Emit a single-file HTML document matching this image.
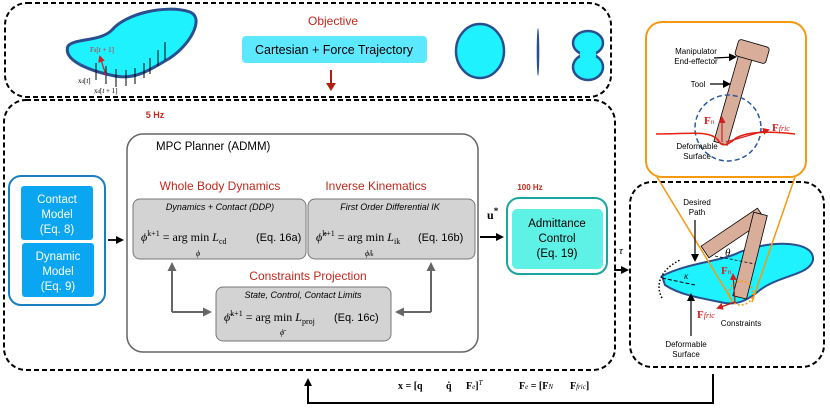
<!DOCTYPE html>
<html><head><meta charset="utf-8"><style>
html,body{margin:0;padding:0;background:#fff}
svg{display:block}
text{font-family:"Liberation Sans",sans-serif}
.s{font-family:"Liberation Serif",serif}
</style></head><body>
<svg width="830" height="408" viewBox="0 0 830 408" xmlns="http://www.w3.org/2000/svg">
<defs>
<marker id="ab" markerWidth="8" markerHeight="8" refX="6" refY="4" orient="auto" markerUnits="userSpaceOnUse"><path d="M0,0 L8,4 L0,8 Z" fill="#000"/></marker>
<marker id="ag" markerWidth="9" markerHeight="9" refX="7" refY="4.5" orient="auto" markerUnits="userSpaceOnUse"><path d="M0,0 L9,4.5 L0,9 Z" fill="#666"/></marker>
<marker id="ar" markerWidth="7" markerHeight="7" refX="5" refY="3.5" orient="auto" markerUnits="userSpaceOnUse"><path d="M0,0 L7,3.5 L0,7 Z" fill="#d02020"/></marker>
</defs>
<!-- top dashed -->
<rect x="5" y="3" width="606" height="94" rx="22" fill="none" stroke="#000" stroke-width="2" stroke-dasharray="5,3"/>
<!-- main dashed -->
<rect x="4" y="100" width="611" height="270" rx="22" fill="none" stroke="#000" stroke-width="2" stroke-dasharray="5,3"/>
<!-- right dashed -->
<rect x="630" y="182" width="194" height="185" rx="22" fill="none" stroke="#000" stroke-width="2" stroke-dasharray="5,3"/>

<!-- top blob -->
<path d="M68,46 C75,38 100,42 112,30 C125,14 165,4 190,12 C205,18 190,45 170,58 C150,70 135,80 115,76 C95,72 62,62 68,46 Z" fill="#1ef2ff" stroke="#2a4f90" stroke-width="3"/>
<g stroke="#000" stroke-width="1"><line x1="96" y1="63" x2="96" y2="80"/><line x1="106" y1="66" x2="106" y2="84"/><line x1="116" y1="69" x2="116" y2="87"/><line x1="126" y1="70" x2="126" y2="86"/><line x1="135" y1="68" x2="135" y2="84"/><line x1="144" y1="63" x2="144" y2="78"/><line x1="150" y1="58" x2="150" y2="74"/><line x1="158" y1="50" x2="158" y2="66"/><line x1="165" y1="42" x2="165" y2="60"/></g>
<line x1="106" y1="75" x2="100" y2="57" stroke="#d02020" stroke-width="1.2" marker-end="url(#ar)"/>
<text x="90" y="52" class="s" font-size="7" fill="#d02020">F<tspan font-size="5">d</tspan>[<tspan font-style="italic">t</tspan> + 1]</text>
<text x="78" y="83" class="s" font-size="7">x<tspan font-size="5">d</tspan>[<tspan font-style="italic">t</tspan>]</text>
<text x="94" y="93" class="s" font-size="7">x<tspan font-size="5">d</tspan>[<tspan font-style="italic">t</tspan> + 1]</text>

<text x="333" y="25" font-size="12" fill="#c0281e" text-anchor="middle">Objective</text>
<rect x="242" y="36" width="185" height="27" rx="4" fill="#5ce8ff"/>
<text x="334" y="54" font-size="12.5" text-anchor="middle">Cartesian + Force Trajectory</text>
<line x1="331" y1="70" x2="331" y2="86" stroke="#b01e14" stroke-width="2"/>
<path d="M326,83 L336,83 L331,91 Z" fill="#b01e14"/>
<ellipse cx="480" cy="51" rx="24" ry="27" fill="#1ef2ff" stroke="#2a4f90" stroke-width="2.5"/>
<ellipse cx="538" cy="52" rx="1.3" ry="24" fill="#2a4f90"/>
<ellipse cx="588" cy="43" rx="15" ry="12" fill="#1ef2ff" stroke="#2a4f90" stroke-width="2.5"/>
<ellipse cx="588" cy="67" rx="15" ry="13" fill="#1ef2ff" stroke="#2a4f90" stroke-width="2.5"/>
<rect x="580" y="52" width="16" height="5" fill="#1ef2ff"/>

<text x="155" y="118" font-size="9" font-weight="bold" fill="#c0281e" text-anchor="middle">5 Hz</text>

<!-- left models -->
<rect x="9" y="176" width="96" height="129" rx="12" fill="#fff" stroke="#1a7fc0" stroke-width="2"/>
<rect x="21" y="186" width="72" height="54" rx="3" fill="#0ba6f2"/>
<rect x="22" y="243" width="72" height="54" rx="3" fill="#0ba6f2"/>
<g fill="#fff" font-size="11.5" text-anchor="middle">
<text x="57" y="203">Contact</text><text x="57" y="218">Model</text><text x="57" y="233">(Eq. 8)</text>
<text x="58" y="260">Dynamic</text><text x="58" y="275">Model</text><text x="58" y="290">(Eq. 9)</text></g>
<line x1="108" y1="240" x2="122" y2="240" stroke="#000" stroke-width="1.8" marker-end="url(#ab)"/>

<!-- MPC -->
<rect x="127" y="134" width="351" height="218" rx="16" fill="#fff" stroke="#666" stroke-width="1.5"/>
<text x="156" y="150" font-size="11.5">MPC Planner (ADMM)</text>
<text x="220" y="190" font-size="12" fill="#c0281e" text-anchor="middle">Whole Body Dynamics</text>
<text x="376" y="190" font-size="12" fill="#c0281e" text-anchor="middle">Inverse Kinematics</text>
<rect x="133" y="199" width="173" height="60" rx="7" fill="#d3d3d3" stroke="#777"/>
<rect x="308" y="199" width="167" height="60" rx="7" fill="#d3d3d3" stroke="#777"/>
<text x="220" y="210" font-size="9" font-style="italic" text-anchor="middle">Dynamics + Contact (DDP)</text>
<text x="390" y="210" font-size="9" font-style="italic" text-anchor="middle">First Order Differential IK</text>
<text x="141" y="241" class="s" font-size="12"><tspan font-style="italic">ϕ</tspan><tspan font-size="8" dy="-5">k+1</tspan><tspan dy="5"> = arg min </tspan><tspan font-style="italic">L</tspan><tspan font-size="8" dy="3">cd</tspan></text>
<text x="196" y="256" class="s" font-size="8" font-style="italic">ϕ</text>
<text x="256" y="241" font-size="11">(Eq. 16a)</text>
<text x="316" y="241" class="s" font-size="12"><tspan font-style="italic">ϕ̂</tspan><tspan font-size="8" dy="-5">k+1</tspan><tspan dy="5"> = arg min </tspan><tspan font-style="italic">L</tspan><tspan font-size="8" dy="3">ik</tspan></text>
<text x="365" y="256" class="s" font-size="8" font-style="italic">ϕ̂<tspan font-size="6">ik</tspan></text>
<text x="418" y="241" font-size="11">(Eq. 16b)</text>
<text x="308" y="280" font-size="12" fill="#c0281e" text-anchor="middle">Constraints Projection</text>
<rect x="216" y="287" width="175" height="54" rx="7" fill="#d3d3d3" stroke="#777"/>
<text x="303" y="298" font-size="9" font-style="italic" text-anchor="middle">State, Control, Contact  Limits</text>
<text x="224" y="321" class="s" font-size="12"><tspan font-style="italic">ϕ̄</tspan><tspan font-size="8" dy="-5">k+1</tspan><tspan dy="5"> = arg min </tspan><tspan font-style="italic">L</tspan><tspan font-size="8" dy="3">proj</tspan></text>
<text x="280" y="335" class="s" font-size="8" font-style="italic">ϕ̄</text>
<text x="334" y="321" font-size="11">(Eq. 16c)</text>
<path d="M172,312 L172,264" fill="none" stroke="#666" stroke-width="2" marker-end="url(#ag)"/>
<path d="M172,312 L210,312" fill="none" stroke="#666" stroke-width="2" marker-end="url(#ag)"/>
<path d="M431,312 L431,264" fill="none" stroke="#666" stroke-width="2" marker-end="url(#ag)"/>
<path d="M431,312 L397,312" fill="none" stroke="#666" stroke-width="2" marker-end="url(#ag)"/>

<!-- admittance -->
<text x="487" y="219" class="s" font-size="12" font-weight="bold">u<tspan font-size="9" dy="-5">*</tspan></text>
<line x1="480" y1="237" x2="502" y2="237" stroke="#000" stroke-width="2" marker-end="url(#ab)"/>
<text x="530" y="190" font-size="8" font-weight="bold" fill="#c0281e" text-anchor="middle">100 Hz</text>
<rect x="507" y="198" width="100" height="76" rx="12" fill="#fff" stroke="#1aa6a0" stroke-width="2"/>
<rect x="512" y="209" width="91" height="60" rx="5" fill="#5ef2e6"/>
<g font-size="11.5" text-anchor="middle"><text x="557" y="227">Admittance</text><text x="557" y="242">Control</text><text x="557" y="257">(Eq. 19)</text></g>
<text x="619" y="254" class="s" font-size="11" font-style="italic">τ</text>
<line x1="614" y1="270" x2="627" y2="270" stroke="#000" stroke-width="2" marker-end="url(#ab)"/>

<!-- orange box -->
<rect x="646" y="22" width="160" height="155" rx="16" fill="#fff" stroke="#f59a10" stroke-width="2"/>
<g transform="rotate(16 733 100)"><rect x="726" y="55" width="14" height="90" fill="#d8ad9a" stroke="#000" stroke-width="0.8"/></g>
<g transform="rotate(16 752 52)"><rect x="736" y="43" width="32" height="17" rx="3" fill="#d8ad9a" stroke="#000" stroke-width="0.8"/></g>
<circle cx="728" cy="128" r="33" fill="none" stroke="#2a5aa0" stroke-width="1.5" stroke-dasharray="5,3"/>
<path d="M656,134 C690,134 710,130 718,140 C722,148 728,145 736,138 C750,130 780,132 795,134" fill="none" stroke="#e62010" stroke-width="1.5"/>
<line x1="722" y1="142" x2="722" y2="118" stroke="#d02020" stroke-width="1.2" marker-end="url(#ar)"/>
<line x1="726" y1="142" x2="768" y2="130" stroke="#d02020" stroke-width="1.2" marker-end="url(#ar)"/>
<text x="704" y="124" class="s" font-size="11" font-weight="bold" fill="#d02020">F<tspan font-size="7" font-style="italic" font-weight="normal">n</tspan></text>
<text x="772" y="131" class="s" font-size="11" font-weight="bold" fill="#d02020">F<tspan font-size="8" font-style="italic" font-weight="normal">fric</tspan></text>
<g font-size="8" text-anchor="middle"><text x="696" y="54">Manipulator</text><text x="696" y="64">End-effector</text><text x="698" y="87">Tool</text><text x="697" y="149">Deformable</text><text x="697" y="159">Surface</text></g>
<line x1="714" y1="58" x2="735" y2="57" stroke="#000" stroke-width="1.2" marker-end="url(#ab)"/>
<line x1="710" y1="84" x2="729" y2="84" stroke="#000" stroke-width="1.2" marker-end="url(#ab)"/>

<!-- right panel -->
<path d="M662,276 C690,262 720,262 740,252 C770,240 815,240 813,260 C810,275 780,275 760,290 C748,300 738,305 725,303 C700,298 680,295 665,285 Z" fill="#1ef2ff" stroke="#2a4f90" stroke-width="2"/>
<path d="M662,298 C655,285 660,270 680,260" fill="none" stroke="#000" stroke-width="1.5" stroke-dasharray="1.5,2"/>
<line x1="662" y1="278" x2="695" y2="285" stroke="#000" stroke-dasharray="4,2"/>
<text x="684" y="279" class="s" font-size="9" font-style="italic">κ</text>
<g transform="rotate(-34 705 252)"><rect x="705" y="245" width="68" height="14" fill="#d8ad9a" stroke="#000" stroke-width="0.8"/></g>
<g transform="rotate(14 760 220)"><rect x="752" y="214" width="14" height="86" fill="#d8ad9a" stroke="#000" stroke-width="0.8"/></g>
<line x1="715" y1="256" x2="755" y2="264" stroke="#000" stroke-dasharray="3,2" stroke-width="0.8"/>
<text x="725" y="256" class="s" font-size="11" font-style="italic">θ</text>
<circle cx="741" cy="293" r="12" fill="none" stroke="#f59a10" stroke-width="1.5" stroke-dasharray="2,2"/>
<line x1="657" y1="177" x2="733" y2="302" stroke="#f59a10" stroke-width="1.5"/>
<line x1="795" y1="177" x2="752" y2="302" stroke="#f59a10" stroke-width="1.5"/>
<line x1="735" y1="302" x2="733" y2="275" stroke="#b01e14" stroke-width="1.2" marker-end="url(#ar)"/>
<line x1="735" y1="302" x2="718" y2="308" stroke="#b01e14" stroke-width="1.2" marker-end="url(#ar)"/>
<text x="721" y="274" class="s" font-size="11" font-weight="bold" fill="#d02020">F<tspan font-size="7" font-style="italic" font-weight="normal">n</tspan></text>
<text x="697" y="318" class="s" font-size="11" font-weight="bold" fill="#d02020">F<tspan font-size="8" font-style="italic" font-weight="normal">fric</tspan></text>
<g font-size="8" text-anchor="middle"><text x="697" y="205">Desired</text><text x="697" y="215">Path</text><text x="741" y="326">Constraints</text><text x="686" y="347">Deformable</text><text x="686" y="357">Surface</text></g>
<line x1="695" y1="220" x2="695" y2="260" stroke="#000" stroke-width="1.2" marker-end="url(#ab)"/>
<line x1="691" y1="336" x2="691" y2="295" stroke="#000" stroke-width="1.2" marker-end="url(#ab)"/>

<!-- feedback -->
<path d="M713,374 L713,403 L308,403 L308,380" fill="none" stroke="#000" stroke-width="2" marker-end="url(#ab)"/>
<g class="s" font-size="10" font-weight="bold">
<text x="398" y="389" class="s">x = [q</text>
<text x="446" y="389" class="s">q̇</text>
<text x="466" y="389" class="s">F<tspan font-size="7" font-style="italic" font-weight="normal">e</tspan>]<tspan font-size="7" dy="-4" font-style="italic" font-weight="normal">T</tspan></text>
<text x="519" y="389" class="s">F<tspan font-size="7" font-style="italic" font-weight="normal">e</tspan> = [F<tspan font-size="7" font-style="italic" font-weight="normal">N</tspan></text>
<text x="570" y="389" class="s">F<tspan font-size="7" font-style="italic" font-weight="normal">fric</tspan>]</text>
</g>
</svg>
</body></html>
